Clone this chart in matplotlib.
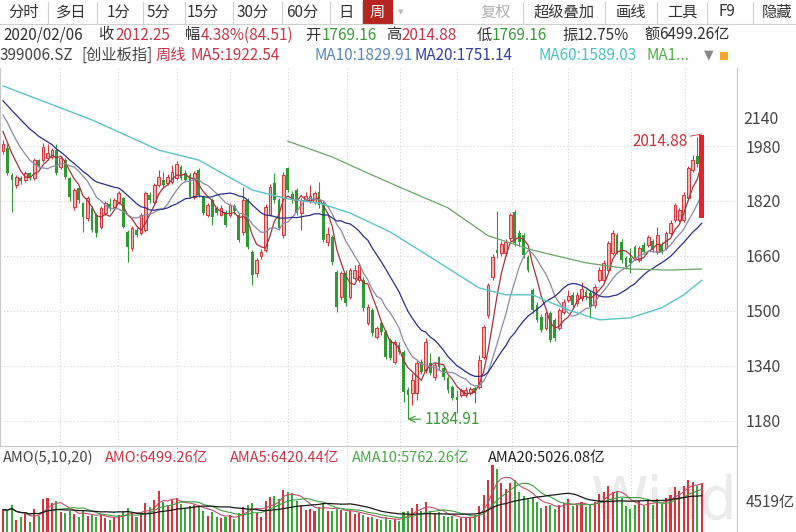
import numpy as np
import pandas as pd
import matplotlib
matplotlib.use('Agg')
import matplotlib.pyplot as plt
from matplotlib.patches import Rectangle
from matplotlib.lines import Line2D

plt.rcParams['font.family'] = ['Noto Sans CJK SC', 'DejaVu Sans']

W, H = 796, 532

# 创业板指 周线  2016/12 - 2020/02
opens = [1965, 1975, 1896, 1866, 1888, 1881, 1900, 1887, 1939, 1939, 1946, 1948, 1968, 1918, 1939, 1887,
         1803, 1857, 1814, 1770, 1800, 1779, 1744, 1785, 1810, 1803, 1817, 1829, 1730, 1683, 1736, 1727,
         1736, 1837, 1817, 1866, 1881, 1872, 1875, 1887, 1919, 1901, 1896, 1832, 1910, 1832, 1780, 1823,
         1800, 1780, 1788, 1780, 1805, 1779, 1730, 1823, 1672, 1610, 1660, 1677, 1780, 1872, 1823, 1720,
         1916, 1840, 1852, 1785, 1826, 1820, 1817, 1846, 1814, 1700, 1715, 1613, 1541, 1610, 1541, 1596,
         1590, 1590, 1465, 1503, 1424, 1465, 1439, 1416, 1352, 1401, 1381, 1270, 1262, 1262, 1352, 1328,
         1349, 1308, 1366, 1334, 1305, 1279, 1250, 1256, 1256, 1262, 1276, 1279, 1366, 1488, 1599, 1677,
         1668, 1668, 1712, 1788, 1727, 1721, 1657, 1561, 1517, 1482, 1451, 1494, 1474, 1451, 1497, 1532,
         1547, 1523, 1538, 1556, 1553, 1518, 1590, 1590, 1619, 1668, 1721, 1700, 1654, 1654, 1686, 1648,
         1692, 1692, 1703, 1672, 1692, 1683, 1727, 1765, 1765, 1765, 1828, 1910, 1950, 1769.16]
closes = [1985, 1902, 1880, 1890, 1878, 1901, 1887, 1939, 1922, 1977, 1960, 1968, 1902, 1945, 1890, 1832,
          1852, 1823, 1773, 1829, 1736, 1727, 1800, 1814, 1800, 1823, 1843, 1745, 1687, 1742, 1722, 1779,
          1843, 1823, 1866, 1890, 1866, 1890, 1904, 1928, 1887, 1881, 1832, 1901, 1838, 1785, 1808, 1773,
          1785, 1800, 1750, 1808, 1790, 1707, 1823, 1686, 1605, 1648, 1672, 1803, 1861, 1823, 1740, 1895,
          1852, 1823, 1785, 1823, 1835, 1835, 1843, 1808, 1707, 1725, 1643, 1512, 1610, 1523, 1619, 1619,
          1634, 1509, 1512, 1436, 1450, 1439, 1366, 1363, 1410, 1381, 1265, 1256, 1300, 1349, 1322, 1410,
          1320, 1343, 1337, 1308, 1270, 1247, 1241, 1270, 1270, 1273, 1262, 1357, 1453, 1576, 1657, 1668,
          1694, 1700, 1779, 1697, 1700, 1663, 1619, 1503, 1474, 1445, 1494, 1416, 1420, 1503, 1527, 1544,
          1518, 1547, 1564, 1540, 1512, 1570, 1619, 1640, 1697, 1727, 1672, 1648, 1628, 1640, 1654, 1683,
          1672, 1715, 1680, 1721, 1672, 1727, 1756, 1808, 1794, 1838, 1916, 1939, 1928, 2012.25]
highs = [1998, 1985, 1900, 1895, 1892, 1906, 1903, 1945, 1943, 1988, 1985, 1975, 1985, 1950, 1945, 1890,
         1858, 1862, 1818, 1835, 1805, 1785, 1805, 1820, 1829, 1830, 1850, 1832, 1735, 1748, 1745, 1785,
         1848, 1845, 1872, 1910, 1905, 1898, 1925, 1935, 1925, 1910, 1900, 1906, 1915, 1837, 1815, 1828,
         1806, 1808, 1795, 1815, 1812, 1785, 1860, 1830, 1678, 1655, 1680, 1810, 1868, 1901, 1830, 1905,
         1920, 1848, 1858, 1830, 1845, 1866, 1850, 1875, 1820, 1745, 1720, 1618, 1616, 1618, 1625, 1635,
         1640, 1600, 1520, 1510, 1455, 1470, 1445, 1420, 1416, 1410, 1386, 1278, 1320, 1356, 1360, 1420,
         1378, 1350, 1370, 1340, 1310, 1285, 1270, 1275, 1278, 1280, 1282, 1372, 1460, 1582, 1665, 1790,
         1705, 1710, 1785, 1795, 1735, 1728, 1662, 1568, 1525, 1490, 1500, 1500, 1480, 1510, 1535, 1560,
         1555, 1555, 1585, 1565, 1560, 1578, 1628, 1648, 1705, 1736, 1728, 1708, 1660, 1683, 1692, 1690,
         1700, 1722, 1710, 1745, 1700, 1733, 1765, 1815, 1800, 1845, 1922, 1955, 2005, 2014.88]
lows = [1958, 1895, 1788, 1858, 1870, 1876, 1880, 1882, 1915, 1934, 1940, 1942, 1895, 1912, 1885, 1820,
        1795, 1815, 1730, 1762, 1730, 1715, 1738, 1778, 1790, 1798, 1812, 1740, 1643, 1675, 1715, 1720,
        1730, 1815, 1812, 1860, 1860, 1866, 1870, 1880, 1880, 1875, 1828, 1826, 1832, 1778, 1772, 1750,
        1778, 1775, 1745, 1772, 1783, 1700, 1722, 1680, 1576, 1598, 1650, 1672, 1775, 1815, 1735, 1712,
        1845, 1815, 1778, 1736, 1820, 1815, 1810, 1800, 1700, 1690, 1635, 1498, 1532, 1515, 1535, 1590,
        1585, 1500, 1458, 1428, 1418, 1430, 1360, 1358, 1346, 1375, 1236, 1184.91, 1225, 1240, 1316, 1320,
        1315, 1300, 1328, 1300, 1262, 1240, 1203, 1250, 1250, 1255, 1233, 1273, 1360, 1480, 1590, 1655,
        1660, 1660, 1705, 1690, 1690, 1655, 1612, 1495, 1468, 1438, 1445, 1410, 1412, 1445, 1490, 1525,
        1510, 1515, 1530, 1532, 1480, 1510, 1585, 1585, 1612, 1662, 1665, 1640, 1622, 1610, 1648, 1642,
        1666, 1686, 1672, 1665, 1665, 1676, 1720, 1758, 1760, 1758, 1822, 1905, 1920, 1769.16]
# 成交额 (亿)
amo = [3400, 3300, 3900, 2200, 2600, 2900, 2000, 3500, 2700, 4600, 4800, 4200, 4400, 3100, 3000, 3300,
       2900, 2600, 3200, 2700, 2800, 2500, 2900, 2400, 2200, 2500, 2800, 3200, 3600, 3000, 2500, 3000,
       4200, 3700, 4500, 5600, 4300, 4000, 4600, 4800, 4100, 3600, 3800, 3900, 3800, 3300, 2700, 3100,
       2500, 2400, 2600, 2800, 2300, 3000, 3700, 3900, 4200, 3000, 2600, 4400, 4900, 5000, 4600, 5700,
       5500, 5300, 4400, 3900, 3400, 3500, 3300, 3700, 4200, 3300, 3200, 3500, 3400, 3100, 3200, 2900,
       3000, 2800, 2500, 2600, 2300, 2200, 2600, 2200, 2300, 2100, 3100, 3300, 3600, 4100, 3200, 4300,
       3300, 3000, 3100, 2700, 2500, 2700, 2300, 2400, 2600, 2500, 2800, 3800, 5100, 6800, 8600, 8100,
       6500, 5800, 6500, 6800, 5500, 5000, 4600, 4800, 4300, 3600, 3800, 4000, 3500, 3900, 4200, 4600,
       3800, 4000, 4300, 3700, 4000, 4300, 5200, 5400, 6100, 5500, 5400, 4800, 3800, 3500, 4000, 4400,
       3800, 4600, 3900, 4600, 4100, 4700, 5100, 6000, 5600, 6100, 6800, 6600, 6100, 6499.26]
# closes before the window, for the short moving averages
prev_closes = [2180, 2170, 2160, 2150, 2160, 2150, 2140, 2150, 2140, 2130, 2120, 2150, 2140, 2100,
               2080, 2060, 2040, 2020, 2005]
# MA60 / MA120
ma60_idx = [0, 20, 35, 44, 56, 64, 71, 78, 87, 96, 107, 113, 119, 127, 134, 141, 148, 153, 157]
ma60_val = [2155, 2056, 1968, 1939, 1852, 1826, 1814, 1785, 1730, 1657, 1567, 1547, 1547, 1503, 1474,
            1480, 1509, 1547, 1589.03]
ma120_idx = [64, 74, 82, 89, 100, 109, 119, 131, 141, 150, 157]
ma120_val = [1994, 1948, 1901, 1861, 1800, 1719, 1677, 1640, 1622, 1619, 1622]

price_ticks = [1180, 1340, 1500, 1660, 1820, 1980]
quarter_lines = [12.8, 25.8, 39.1, 51.0, 64.0, 77.3, 89.2, 102.0, 114.4, 127.0, 141.1, 153.3]

RED = '#d8343e'
GREEN = '#2f9a33'
TXT = '#333333'
VRED = '#c8374a'

o = np.array(opens); c = np.array(closes); h = np.array(highs); l = np.array(lows)
x = np.arange(len(c))
up = c >= o
last = len(c) - 1

s = pd.Series(prev_closes + closes)
npre = len(prev_closes)
ma5 = s.rolling(5).mean().values[npre:]
ma10 = s.rolling(10).mean().values[npre:]
ma20 = s.rolling(20).mean().values[npre:]
v = pd.Series(amo)
ama5 = v.rolling(5, min_periods=1).mean()
ama10 = v.rolling(10, min_periods=1).mean()
ama20 = v.rolling(20, min_periods=1).mean()

fig = plt.figure(figsize=(W / 100, H / 100), dpi=100)


def ftxt(px, py, txt, color=TXT, size=10.5, ha='left', **kw):
    fig.text(px / W, 1 - py / H, txt, color=color, fontsize=size, ha=ha, va='center', **kw)


# ---- main price panel
x0 = -3 / 4.45
x1 = (737 - 3) / 4.45
ax = fig.add_axes([0, 1 - 446 / H, 737 / W, (446 - 68) / H])
ax.set_xlim(x0, x1)
ax.set_ylim(1107, 2207)
for p in price_ticks:
    ax.axhline(p, color='#d5d5d5', lw=0.8, ls=(0, (1, 2)), zorder=0)
for q in quarter_lines:
    ax.axvline(q, color='#d5d5d5', lw=0.8, ls=(0, (1, 2)), zorder=0)

dn = ~up
up_b = up.copy(); up_b[last] = False
dn_b = dn.copy(); dn_b[last] = False
ax.vlines(x[up_b], l[up_b], h[up_b], color=RED, lw=0.8, zorder=2)
ax.vlines(x[dn_b], l[dn_b], h[dn_b], color=GREEN, lw=0.8, zorder=2)
body = np.maximum(np.abs(c - o), 3)
bot = np.minimum(o, c)
ax.bar(x[up_b], body[up_b], bottom=bot[up_b], width=0.62, facecolor='#f4b0aa',
       edgecolor=RED, lw=0.7, zorder=2)
ax.bar(x[dn_b], body[dn_b], bottom=bot[dn_b], width=0.62, color=GREEN, lw=0, zorder=2)
ax.bar(x[last], body[last], bottom=bot[last], width=1.1, color='#e8202a', lw=0, zorder=4)

ax.plot(x, ma5, color='#a8323c', lw=0.9, zorder=3)
ax.plot(x, ma10, color='#8a8aa6', lw=0.9, zorder=3)
ax.plot(x, ma20, color='#2b2f86', lw=0.9, zorder=3)
ax.plot(ma60_idx, ma60_val, color='#5cc4c4', lw=1.0, zorder=3)
ax.plot(ma120_idx, ma120_val, color='#6aa66a', lw=0.9, zorder=3)

ax.annotate('2014.88', xy=(last, h[last]), xytext=(153.8, 1992), ha='right', va='center',
            color='#c8323c', fontsize=11,
            arrowprops=dict(arrowstyle='-', color='#c8323c', lw=0.6, shrinkA=0, shrinkB=0))
lo = int(np.argmin(l))
ax.annotate('1184.91', xy=(lo, l[lo]), xytext=(lo + 3.8, l[lo]), ha='left', va='center',
            color='#3a9a3a', fontsize=11,
            arrowprops=dict(arrowstyle='->', color='#3a9a3a', lw=0.8, shrinkA=1, shrinkB=0))

ax.set_yticks(price_ticks)
ax.yaxis.tick_right()
ax.tick_params(axis='y', length=0, pad=6, labelsize=11.5, labelcolor='#444444')
ax.set_xticks([])
ax.spines['top'].set_visible(False)
for sp in ['left', 'right', 'bottom']:
    ax.spines[sp].set_color('#c8c8c8')
    ax.spines[sp].set_linewidth(0.8)
ftxt(743, 119, '2140', color='#444444', size=11.5)

# ---- volume panel
axv = fig.add_axes([0, 0, 737 / W, (532 - 446) / H])
axv.set_facecolor('none')
axv.set_xlim(x0, x1)
axv.set_ylim(812, 10788)
for q in quarter_lines:
    axv.axvline(q, color='#d5d5d5', lw=0.8, ls=(0, (1, 2)), zorder=0)
vcol = [RED if u else '#3aa83a' for u in up]
axv.bar(x, amo, width=0.45, color=vcol, lw=0, zorder=2)
axv.plot(x, ama5, color='#c05068', lw=0.8, zorder=3)
axv.plot(x, ama10, color='#40a040', lw=0.8, zorder=3)
axv.plot(x, ama20, color='#1a1a1a', lw=0.9, zorder=3)
axv.set_yticks([4519])
axv.set_yticklabels(['4519亿'])
axv.yaxis.tick_right()
axv.tick_params(axis='y', length=0, pad=6, labelsize=11, labelcolor='#444444')
axv.set_xticks([])
axv.spines['bottom'].set_visible(False)
axv.spines['left'].set_visible(False)
for sp in ['top', 'right']:
    axv.spines[sp].set_color('#c8c8c8')
    axv.spines[sp].set_linewidth(0.8)

# Wind watermark
fig.text(590 / W, 1 - 531 / H, 'Wind', fontsize=42, color='#ebebeb', va='bottom',
         family='DejaVu Sans', zorder=-1)

ftxt(3, 458, 'AMO(5,10,20)', color='#444444', size=10.5)
ftxt(105, 458, 'AMO:6499.26亿', color=VRED, size=10.5)
ftxt(230, 458, 'AMA5:6420.44亿', color=VRED, size=10.5)
ftxt(352, 458, 'AMA10:5762.26亿', color='#4aa84a', size=10.5)
ftxt(488, 458, 'AMA20:5026.08亿', color='#222222', size=10.5)

# ---- toolbar
fig.add_artist(Rectangle((363 / W, 1 - 24 / H), 30 / W, 24 / H, transform=fig.transFigure,
                         color='#b8241f', lw=0))
tools = [('分时', 24), ('多日', 71), ('1分', 118), ('5分', 158), ('15分', 203), ('30分', 253),
         ('60分', 302), ('日', 346)]
for t, cx in tools:
    ftxt(cx, 12, t, size=11, ha='center')
ftxt(377, 12, '周', color='white', size=11, ha='center')
ftxt(401, 12, '▾', color='#bbbbbb', size=8, ha='center')
ftxt(496, 12, '复权', color='#b0b0b0', size=11, ha='center')
for t, cx in [('超级叠加', 564), ('画线', 631), ('工具', 682), ('F9', 727), ('隐藏', 777)]:
    ftxt(cx, 12, t, size=11, ha='center')
for sx in [48, 97, 143, 185, 233, 282, 330, 362, 523, 605, 657, 707, 753]:
    fig.add_artist(Line2D([sx / W, sx / W], [1 - 2 / H, 1 - 23 / H], transform=fig.transFigure,
                          color='#d0d0d0', lw=0.8))
fig.add_artist(Line2D([0, 1], [1 - 24 / H, 1 - 24 / H], transform=fig.transFigure,
                      color='#d0d0d0', lw=0.8))

# ---- quote line
ftxt(3, 35, '2020/02/06', size=11)
ftxt(98, 35, '收', size=11)
ftxt(115, 35, '2012.25', color=VRED, size=11)
ftxt(185, 35, '幅', size=11)
ftxt(201, 35, '4.38%(84.51)', color=VRED, size=11)
ftxt(305, 35, '开', size=11)
ftxt(322, 35, '1769.16', color='#3a9a3a', size=11)
ftxt(386, 35, '高', size=11)
ftxt(401, 35, '2014.88', color=VRED, size=11)
ftxt(477, 35, '低', size=11)
ftxt(492, 35, '1769.16', color='#3a9a3a', size=11)
ftxt(562, 35, '振', size=11)
ftxt(577, 35, '12.75%', size=11)
ftxt(644, 35, '额', size=11)
ftxt(659, 35, '6499.26亿', size=11)

# ---- MA line
ftxt(0, 55, '399006.SZ', color='#444444', size=11)
ftxt(81, 55, '[创业板指]', color='#444444', size=11)
ftxt(156, 55, '周线', color=VRED, size=11)
ftxt(190, 55, 'MA5:1922.54', color=VRED, size=11)
ftxt(314, 55, 'MA10:1829.91', color='#5a86c6', size=11)
ftxt(415, 55, 'MA20:1751.14', color='#3440a8', size=11)
ftxt(538, 55, 'MA60:1589.03', color='#4cc2c2', size=11)
ftxt(647, 55, 'MA1...', color='#50b050', size=11)
ftxt(704, 55, '▼', color='#888888', size=9, family='DejaVu Sans')
fig.add_artist(Rectangle((720 / W, 1 - 60 / H), 8 / W, 8 / H, transform=fig.transFigure,
                         color='#f0a828', lw=0))

fig.savefig('out.png', dpi=100)
